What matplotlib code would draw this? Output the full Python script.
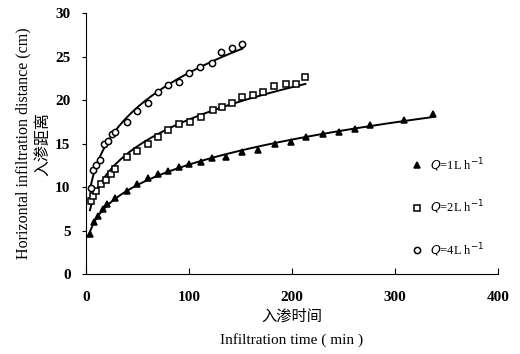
import numpy as np
import matplotlib.pyplot as plt

plt.rcParams['font.family'] = ['Liberation Serif', 'Noto Sans CJK SC']

# Q = 1 L/h
t1 = [4, 8, 12, 17, 21, 28, 40, 50, 60, 70, 80, 90, 100, 112, 122, 136, 152,
      167, 184, 199, 214, 230, 246, 261, 276, 309, 337]
d1 = [4.6, 6.0, 6.7, 7.5, 8.1, 8.7, 9.5, 10.4, 11.0, 11.5, 11.9, 12.3, 12.7,
      12.9, 13.3, 13.5, 14.0, 14.3, 14.9, 15.2, 15.7, 16.1, 16.3, 16.7, 17.1,
      17.7, 18.4]

# Q = 2 L/h
t2 = [5, 7, 10, 15, 20, 24, 28, 40, 50, 60, 70, 80, 90, 101, 112, 123, 132,
      142, 152, 162, 172, 183, 194, 204, 213]
d2 = [8.4, 9.0, 9.6, 10.4, 10.8, 11.5, 12.1, 13.5, 14.1, 14.9, 15.8, 16.6,
      17.2, 17.5, 18.0, 18.9, 19.2, 19.7, 20.4, 20.6, 20.9, 21.6, 21.8, 21.9,
      22.6]

# Q = 4 L/h
t4 = [5, 7, 10, 14, 18, 22, 25, 28, 40, 50, 60, 70, 80, 90, 100, 111, 122,
      131, 142, 152]
d4 = [9.9, 12.0, 12.5, 13.1, 14.9, 15.3, 16.1, 16.3, 17.5, 18.7, 19.7, 20.9,
      21.7, 22.1, 23.1, 23.8, 24.3, 25.5, 26.0, 26.5]

labels = ['$Q$=1L h$^{-1}$', '$Q$=2L h$^{-1}$', '$Q$=4L h$^{-1}$']
markers = ['^', 's', 'o']

fig = plt.figure(figsize=(5.2, 3.54), dpi=100)
ax = fig.add_axes([0.165, 0.226, 0.793, 0.737])

for t, d, m, lab in zip([t1, t2, t4], [d1, d2, d4], markers, labels):
    t = np.array(t, dtype=float)
    d = np.array(d, dtype=float)
    # power-law fit through the measured points
    b, loga = np.polyfit(np.log(t), np.log(d), 1)
    tt = np.linspace(t[0] - 1, t[-1], 200)
    ax.plot(tt, np.exp(loga) * tt ** b, color='black', lw=1.4, zorder=2)
    face = 'black' if m == '^' else 'white'
    ax.plot(t, d, m, ms=4.5, mfc=face, mec='black', mew=1.1, label=lab,
            zorder=3)

ax.set_xlim(0, 400)
ax.set_ylim(0, 30)
ax.set_xticks([0, 100, 200, 300, 400])
ax.set_yticks([0, 5, 10, 15, 20, 25, 30])
ax.spines['top'].set_visible(False)
ax.spines['right'].set_visible(False)
ax.tick_params(axis='x', direction='in', length=4, labelsize=11, pad=12)
ax.tick_params(axis='y', direction='out', length=3, labelsize=11, pad=8)
for lbl in ax.get_xticklabels() + ax.get_yticklabels():
    lbl.set_fontweight('bold')

ax.set_xlabel('入渗时间\nInfiltration time ( min )', fontsize=11,
              linespacing=1.9, labelpad=4)
ax.set_ylabel('Horizontal infiltration distance (cm)\n入渗距离', fontsize=11.5,
              linespacing=1.4, labelpad=2)

ax.legend(loc='center left', bbox_to_anchor=(0.76, 0.255), frameon=False,
          fontsize=9, handlelength=1, handletextpad=0.6, labelspacing=2.0,
          numpoints=1)

fig.savefig('out.png', dpi=100)
